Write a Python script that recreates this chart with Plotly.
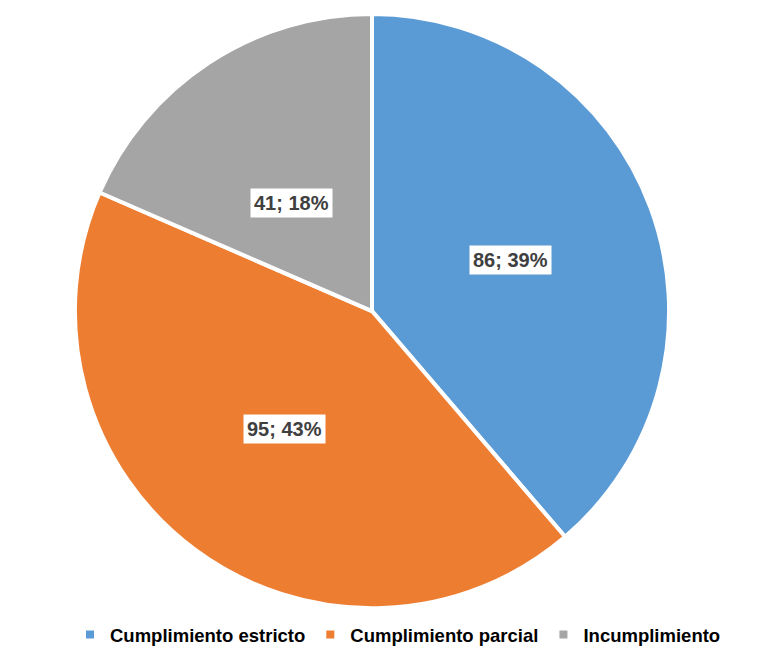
import math
import plotly.graph_objects as go

categories = ["Cumplimiento estricto", "Cumplimiento parcial", "Incumplimiento"]
values = [86, 95, 41]
percent_labels = ["39%", "43%", "18%"]
colors = ["#5B9BD5", "#ED7D31", "#A5A5A5"]

# page has an 8px body margin; figure sized to fit the window
W, H = 774, 646
cx, cy, R = 364, 304, 298
dom_x = [(cx - R) / W, (cx + R) / W]
dom_y = [(H - cy - R) / H, (H - cy + R) / H]

fig = go.Figure(go.Pie(
    labels=categories, values=values, sort=False, direction="clockwise",
    rotation=0, marker=dict(colors=colors, line=dict(color="white", width=4)),
    textinfo="none", hoverinfo="label+value+percent",
    domain=dict(x=dom_x, y=dom_y),
))

total = sum(values)
cum = 0
for v, p in zip(values, percent_labels):
    mid = (cum + v / 2) / total * 2 * math.pi
    cum += v
    r = 0.495 * R
    x = (cx + r * math.sin(mid)) / W
    y = (H - cy + r * math.cos(mid)) / H
    fig.add_annotation(x=x, y=y, xref="paper", yref="paper", text=f"<b>{v}; {p}</b>",
                       showarrow=False, bgcolor="white", borderpad=3,
                       font=dict(family="Liberation Sans, Arial", size=20, color="#404040"))

fig.update_layout(
    width=W, height=H, margin=dict(l=0, r=0, t=0, b=0),
    paper_bgcolor="white", plot_bgcolor="white",
    legend=dict(orientation="h", x=390 / W, xanchor="center", y=(H - 629) / H, yanchor="middle",
                font=dict(family="Liberation Sans, Arial", size=18.5, color="#000000", weight="bold"),
                traceorder="normal", itemwidth=30),
    showlegend=True,
)
fig.write_html("out.html")
